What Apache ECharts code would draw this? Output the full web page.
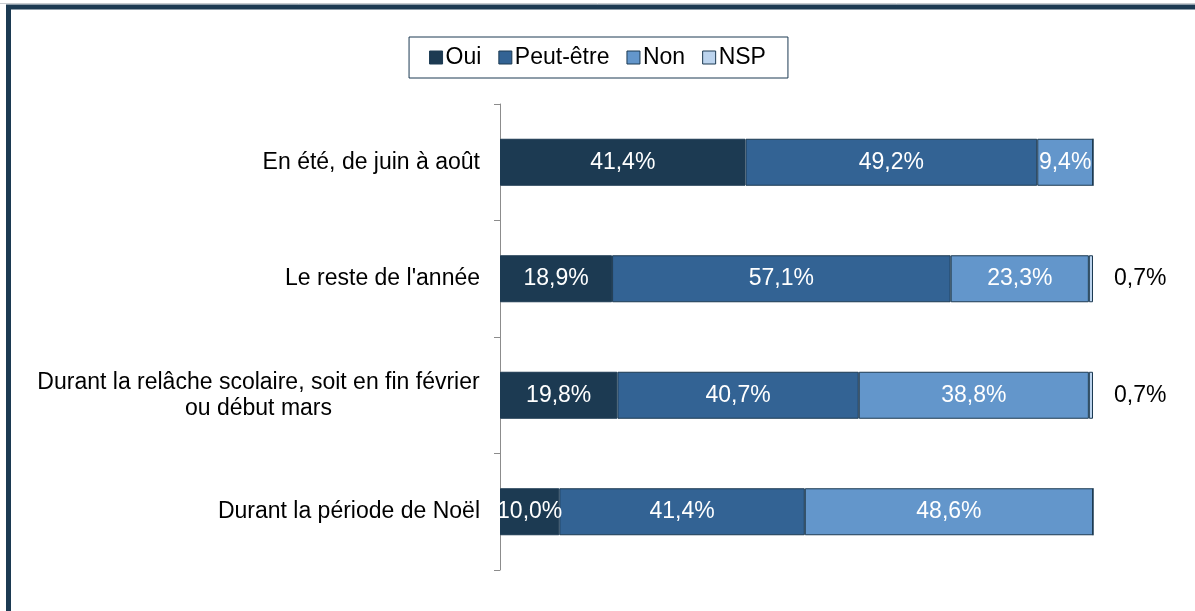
<!DOCTYPE html>
<html>
<head>
<meta charset="utf-8">
<script src="https://cdn.jsdelivr.net/npm/echarts@6/dist/echarts.min.js"></script>
<style>
html,body{margin:0;padding:0;background:#fff;}
#chart{width:1195px;height:611px;}
</style>
</head>
<body>
<div id="chart"></div>
<script>
var categories = [
  "En été, de juin à août",
  "Le reste de l'année",
  "Durant la relâche scolaire, soit en fin février\nou début mars",
  "Durant la période de Noël"
];
var seriesNames = ["Oui", "Peut-être", "Non", "NSP"];
var oui = [41.4, 18.9, 19.8, 10.0];
var peutEtre = [49.2, 57.1, 40.7, 41.4];
var non = [9.4, 23.3, 38.8, 48.6];
var nsp = [0, 0.7, 0.7, 0];

var FONT = '"Liberation Sans", Arial, sans-serif';
var FS = 23;
var colors = ['#1c3a52', '#336394', '#6396cb', '#bcd4ee'];

// width of longest category line for centered multi-line label
var cvs = document.createElement('canvas').getContext('2d');
cvs.font = FS + 'px ' + FONT;
var maxLineW = 0;
categories.forEach(function (c) {
  c.split('\n').forEach(function (l) {
    maxLineW = Math.max(maxLineW, cvs.measureText(l).width);
  });
});

function fmt(p) {
  if (!p.value) return '';
  return p.value.toFixed(1).replace('.', ',') + '%';
}

var values = [oui, peutEtre, non, nsp];
var series = seriesNames.map(function (name, i) {
  var isNsp = i === 3;
  return {
    name: name,
    type: 'bar',
    stack: 'total',
    barWidth: 47,
    data: values[i],
    itemStyle: { color: colors[i], borderColor: '#1c3a52', borderWidth: 1 },
    label: {
      show: true,
      position: isNsp ? 'right' : 'inside',
      distance: isNsp ? 21 : 5,
      color: isNsp ? '#000' : '#fff',
      fontSize: FS,
      fontFamily: FONT,
      formatter: fmt
    },
    emphasis: { disabled: true }
  };
});

var chart = echarts.init(document.getElementById('chart'), null, { renderer: 'canvas' });
chart.setOption({
  animation: false,
  backgroundColor: '#fff',
  textStyle: { fontFamily: FONT },
  graphic: [
    { type: 'line', shape: { x1: 0, y1: 3.5, x2: 1195, y2: 3.5 }, style: { stroke: '#c8ccd0', lineWidth: 1 }, z: 100 },
    { type: 'rect', shape: { x: 8.5, y: 7, width: 1400, height: 800 }, style: { fill: 'none', stroke: '#1c3a52', lineWidth: 5 }, z: 100 }
  ],
  legend: {
    top: 37,
    left: 'center',
    data: seriesNames,
    icon: 'rect',
    itemWidth: 13,
    itemHeight: 13,
    itemGap: 17,
    padding: [9, 22, 9, 20],
    borderColor: '#1c3a52',
    borderWidth: 1,
    itemStyle: { borderColor: '#1c3a52', borderWidth: 1 },
    textStyle: { fontSize: FS, color: '#000', fontFamily: FONT, padding: [0, 0, 0, -2] },
    selectedMode: false
  },
  grid: { left: 500, right: 102, top: 104, bottom: 41, containLabel: false },
  xAxis: {
    type: 'value',
    min: 0,
    max: 100,
    show: false,
    splitLine: { show: false }
  },
  yAxis: {
    type: 'category',
    inverse: true,
    data: categories,
    axisLine: { show: true, lineStyle: { color: '#8c8c8c', width: 1 } },
    axisTick: { show: true, length: 6, lineStyle: { color: '#8c8c8c' } },
    axisLabel: {
      margin: 20,
      color: '#000',
      fontSize: FS,
      fontFamily: FONT,
      lineHeight: 26,
      formatter: function (v) {
        if (v.indexOf('\n') < 0) return v;
        return v.split('\n').map(function (l) { return '{c|' + l + '}'; }).join('\n');
      },
      rich: {
        c: { width: Math.ceil(maxLineW), align: 'center', fontSize: FS, fontFamily: FONT, color: '#000', lineHeight: 26 }
      }
    }
  },
  series: series
});
</script>
</body>
</html>
